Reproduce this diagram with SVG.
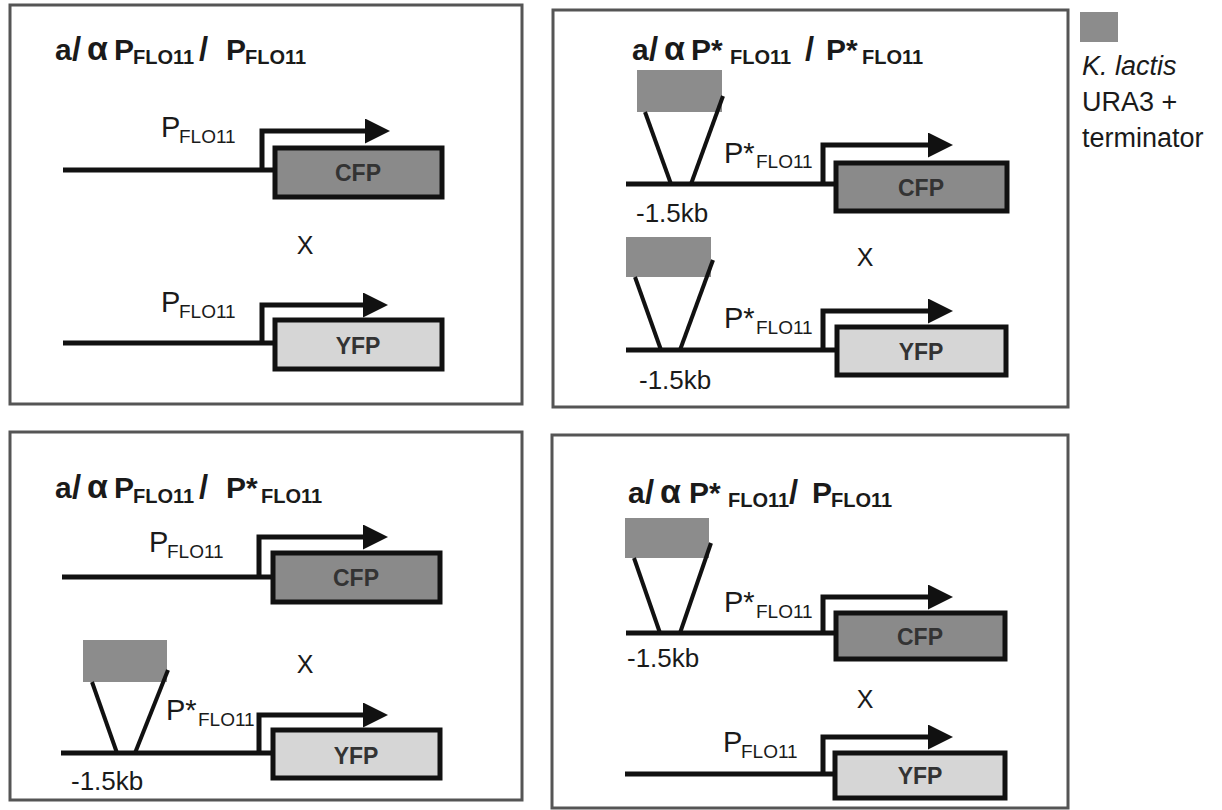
<svg xmlns="http://www.w3.org/2000/svg" width="1222" height="810" viewBox="0 0 1222 810">
<defs>
<marker id="ah" markerUnits="userSpaceOnUse" markerWidth="26" markerHeight="26" refX="0" refY="12.5" orient="auto"><path d="M0,0 L25,12.5 L0,25 Z" fill="#111"/></marker>
<style>
.panel{fill:#fff;stroke:#555;stroke-width:3}
.dna{fill:none;stroke:#111;stroke-width:5}
.prom{fill:none;stroke:#111;stroke-width:5;marker-end:url(#ah)}
.cfp{fill:#8a8a8a;stroke:#111;stroke-width:5}
.yfp{fill:#d6d6d6;stroke:#111;stroke-width:5}
.ins{fill:#8c8c8c}
.insl{stroke:#111;stroke-width:4}
text{font-family:"Liberation Sans",Arial,sans-serif;fill:#1a1a1a}
.t{font-weight:bold;font-size:30px}
.sl{font-weight:bold;font-size:33px}
.ts{font-weight:bold;font-size:20px}
.al{font-weight:bold;font-size:34px}
.l{font-size:29px}
.ls{font-size:19px}
.g{font-weight:bold;font-size:23px;fill:#333;text-anchor:middle}
.kb{font-size:26px}
.x{font-size:25px;text-anchor:middle}
.leg{font-size:27px}
</style>
</defs>
<rect width="1222" height="810" fill="#fff"/>

<g id="panel1">
<rect class="panel" x="10" y="5" width="512" height="399"/>
<text class="t" x="55" y="60">a</text><text class="sl" x="72" y="60">/</text><text class="al" x="87" y="60">α</text>
<text class="t" x="114" y="60">P</text><text class="ts" x="133" y="64">FLO11</text>
<text class="sl" x="199" y="60">/</text>
<text class="t" x="226" y="60">P</text><text class="ts" x="245" y="64">FLO11</text>
<text class="l" x="161" y="137">P</text><text class="ls" x="179" y="143">FLO11</text>
<path class="dna" d="M63,170 H275"/>
<path class="prom" d="M262,170 V131 H365"/>
<rect class="cfp" x="275" y="148" width="167" height="49"/>
<text class="g" x="358" y="181">CFP</text>
<text class="x" x="305" y="254">X</text>
<text class="l" x="161" y="312">P</text><text class="ls" x="179" y="318">FLO11</text>
<path class="dna" d="M63,343 H275"/>
<path class="prom" d="M262,343 V305 H363"/>
<rect class="yfp" x="275" y="320" width="167" height="49"/>
<text class="g" x="358" y="354">YFP</text>
</g>

<g id="panel2">
<rect class="panel" x="553" y="10" width="515" height="397"/>
<text class="t" x="632" y="60">a</text><text class="sl" x="649" y="60">/</text><text class="al" x="664" y="60">α</text>
<text class="t" x="691" y="60">P*</text><text class="ts" x="730" y="64">FLO11</text>
<text class="sl" x="805" y="60">/</text>
<text class="t" x="826" y="60">P*</text><text class="ts" x="862" y="64">FLO11</text>
<rect class="ins" x="637" y="70" width="85" height="42"/>
<line class="insl" x1="645" y1="112" x2="671" y2="184"/>
<line class="insl" x1="723" y1="96" x2="691" y2="184"/>
<path class="dna" d="M626,184 H836"/>
<path class="prom" d="M823,184 V145 H928"/>
<rect class="cfp" x="836" y="163" width="171" height="48"/>
<text class="g" x="921" y="196">CFP</text>
<text class="l" x="724" y="163">P*</text><text class="ls" x="756" y="168">FLO11</text>
<text class="kb" x="636" y="222">-1.5kb</text>
<text class="x" x="865" y="266">X</text>
<rect class="ins" x="626" y="237" width="85" height="40"/>
<line class="insl" x1="635" y1="277" x2="661" y2="350"/>
<line class="insl" x1="713" y1="260" x2="680" y2="350"/>
<path class="dna" d="M626,350 H837"/>
<path class="prom" d="M823,350 V311 H928"/>
<rect class="yfp" x="837" y="327" width="169" height="48"/>
<text class="g" x="921" y="360">YFP</text>
<text class="l" x="724" y="328">P*</text><text class="ls" x="756" y="334">FLO11</text>
<text class="kb" x="639" y="389">-1.5kb</text>
</g>

<g id="legend">
<rect class="ins" x="1080" y="12" width="38" height="30"/>
<text class="leg" x="1082" y="75" font-style="italic">K. lactis</text>
<text class="leg" x="1082" y="111">URA3 +</text>
<text class="leg" x="1082" y="147">terminator</text>
</g>

<g id="panel3">
<rect class="panel" x="10" y="432" width="512" height="368"/>
<text class="t" x="55" y="498">a</text><text class="sl" x="72" y="498">/</text><text class="al" x="87" y="498">α</text>
<text class="t" x="114" y="498">P</text><text class="ts" x="133" y="503">FLO11</text>
<text class="sl" x="199" y="498">/</text>
<text class="t" x="226" y="498">P*</text><text class="ts" x="261" y="503">FLO11</text>
<text class="l" x="149" y="552">P</text><text class="ls" x="167" y="558">FLO11</text>
<path class="dna" d="M62,577 H273"/>
<path class="prom" d="M259,577 V537 H363"/>
<rect class="cfp" x="273" y="553" width="167" height="49"/>
<text class="g" x="356" y="586">CFP</text>
<text class="x" x="305" y="673">X</text>
<rect class="ins" x="83" y="640" width="84" height="42"/>
<line class="insl" x1="92" y1="682" x2="117" y2="753"/>
<line class="insl" x1="168" y1="670" x2="135" y2="753"/>
<path class="dna" d="M61,753 H273"/>
<path class="prom" d="M259,753 V715 H363"/>
<rect class="yfp" x="273" y="730" width="167" height="48"/>
<text class="g" x="356" y="764">YFP</text>
<text class="l" x="166" y="720">P*</text><text class="ls" x="198" y="726">FLO11</text>
<text class="kb" x="71" y="790">-1.5kb</text>
</g>

<g id="panel4">
<rect class="panel" x="552" y="435" width="516" height="373"/>
<text class="t" x="628" y="503">a</text><text class="sl" x="645" y="503">/</text><text class="al" x="660" y="503">α</text>
<text class="t" x="689" y="503">P*</text><text class="ts" x="728" y="507">FLO11</text>
<text class="sl" x="789" y="503">/</text>
<text class="t" x="812" y="503">P</text><text class="ts" x="831" y="507">FLO11</text>
<rect class="ins" x="625" y="518" width="84" height="40"/>
<line class="insl" x1="634" y1="558" x2="660" y2="633"/>
<line class="insl" x1="711" y1="543" x2="680" y2="633"/>
<path class="dna" d="M626,633 H836"/>
<path class="prom" d="M823,633 V597 H928"/>
<rect class="cfp" x="836" y="613" width="169" height="46"/>
<text class="g" x="920" y="645">CFP</text>
<text class="l" x="724" y="612">P*</text><text class="ls" x="756" y="618">FLO11</text>
<text class="kb" x="627" y="667">-1.5kb</text>
<text class="x" x="865" y="708">X</text>
<text class="l" x="723" y="752">P</text><text class="ls" x="741" y="758">FLO11</text>
<path class="dna" d="M625,774 H835"/>
<path class="prom" d="M823,774 V737 H928"/>
<rect class="yfp" x="835" y="753" width="170" height="45"/>
<text class="g" x="920" y="784">YFP</text>
</g>
</svg>
